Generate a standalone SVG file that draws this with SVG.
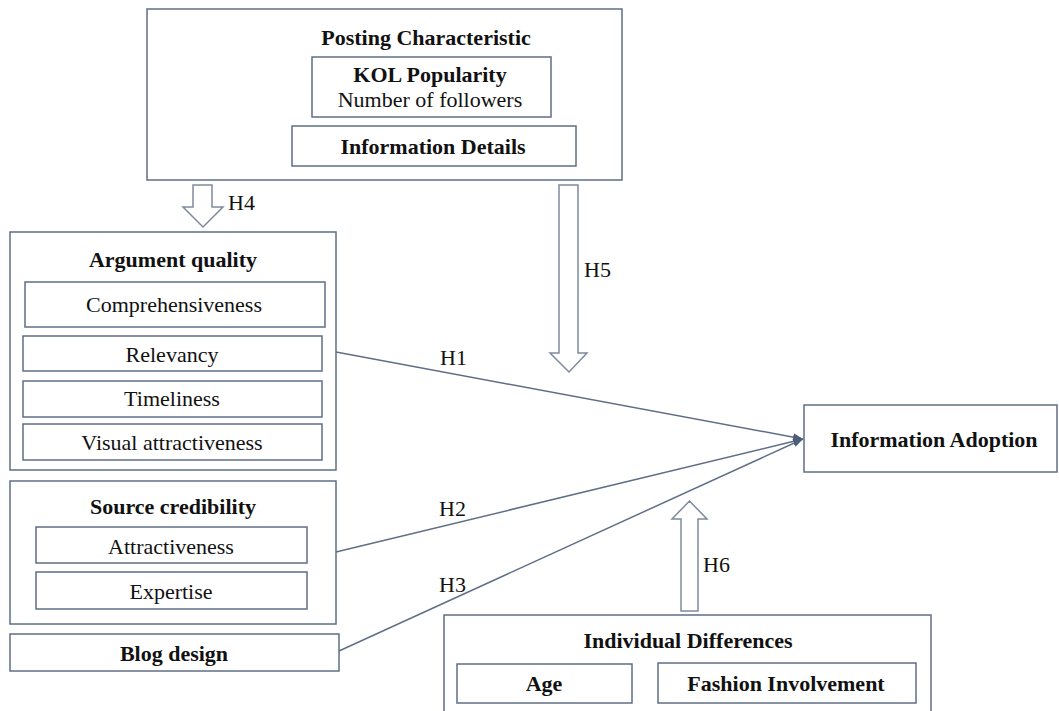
<svg xmlns="http://www.w3.org/2000/svg" width="1059" height="711" viewBox="0 0 1059 711">
<defs>
<style>
.box{fill:#fff;stroke:#5f6e86;stroke-width:1.5}
.blk{fill:#fff;stroke:#7f8a9c;stroke-width:1.5}
.ln{fill:none;stroke:#5f6e86;stroke-width:1.5}
text{font-family:"Liberation Serif","Times New Roman",serif;font-size:22px;fill:#111;text-anchor:middle}
.b{font-weight:bold}
.lab{text-anchor:start}
</style>
<marker id="ah" viewBox="0 0 10 8" refX="10" refY="4" markerWidth="10" markerHeight="8" markerUnits="userSpaceOnUse" orient="auto">
<path d="M0,0 L10,4 L0,8 z" fill="#4f5e78"/>
</marker>
</defs>
<rect width="1059" height="711" fill="#fff"/>

<g id="posting">
<rect class="box" x="147" y="9" width="475" height="171"/>
<text class="b" x="426" y="45">Posting Characteristic</text>
<rect class="box" x="312" y="57" width="239" height="60"/>
<text class="b" x="430" y="82">KOL Popularity</text>
<text x="430" y="107">Number of followers</text>
<rect class="box" x="292" y="126" width="284" height="40"/>
<text class="b" x="433" y="154">Information Details</text>
</g>

<g id="argument">
<rect class="box" x="10" y="232" width="326" height="238"/>
<text class="b" x="173" y="267">Argument quality</text>
<rect class="box" x="25" y="282" width="300" height="45"/>
<text x="174" y="312">Comprehensiveness</text>
<rect class="box" x="23" y="336" width="299" height="35"/>
<text x="172" y="362">Relevancy</text>
<rect class="box" x="23" y="381" width="299" height="36"/>
<text x="172" y="406">Timeliness</text>
<rect class="box" x="23" y="424" width="299" height="36"/>
<text x="172" y="450">Visual attractiveness</text>
</g>

<g id="source">
<rect class="box" x="10" y="481" width="326" height="143"/>
<text class="b" x="173" y="514">Source credibility</text>
<rect class="box" x="36" y="527" width="271" height="36"/>
<text x="171" y="554">Attractiveness</text>
<rect class="box" x="36" y="572" width="271" height="37"/>
<text x="171" y="599">Expertise</text>
</g>

<g id="blog">
<rect class="box" x="10" y="634" width="329" height="37"/>
<text class="b" x="174" y="661">Blog design</text>
</g>

<g id="adoption">
<rect class="box" x="804" y="405" width="253" height="67"/>
<text class="b" x="934" y="447">Information Adoption</text>
</g>

<g id="individual">
<rect class="box" x="444" y="615" width="487" height="110"/>
<text class="b" x="688" y="648">Individual Differences</text>
<rect class="box" x="457" y="664" width="175" height="39"/>
<text class="b" x="544" y="691">Age</text>
<rect class="box" x="658" y="663" width="258" height="40"/>
<text class="b" x="786" y="691">Fashion Involvement</text>
</g>

<g id="connectors">
<path class="blk" d="M193,185 L212,185 L212,207 L223,207 L203,227 L183,207 L193,207 Z"/>
<text class="lab" x="228" y="210">H4</text>
<path class="blk" d="M559,185 L578,185 L578,353 L587,353 L569,372 L550,353 L559,353 Z"/>
<text class="lab" x="584" y="277">H5</text>
<path class="blk" d="M681,611 L681,519 L672,519 L689.5,501 L707,519 L698,519 L698,611 Z"/>
<text class="lab" x="703" y="572">H6</text>
<line class="ln" x1="336" y1="352" x2="803" y2="439" marker-end="url(#ah)"/>
<line class="ln" x1="336" y1="552" x2="803" y2="439" marker-end="url(#ah)"/>
<line class="ln" x1="339" y1="651" x2="803" y2="439" marker-end="url(#ah)"/>
<text class="lab" x="440" y="365">H1</text>
<text class="lab" x="439" y="516">H2</text>
<text class="lab" x="439" y="592">H3</text>
</g>
</svg>
